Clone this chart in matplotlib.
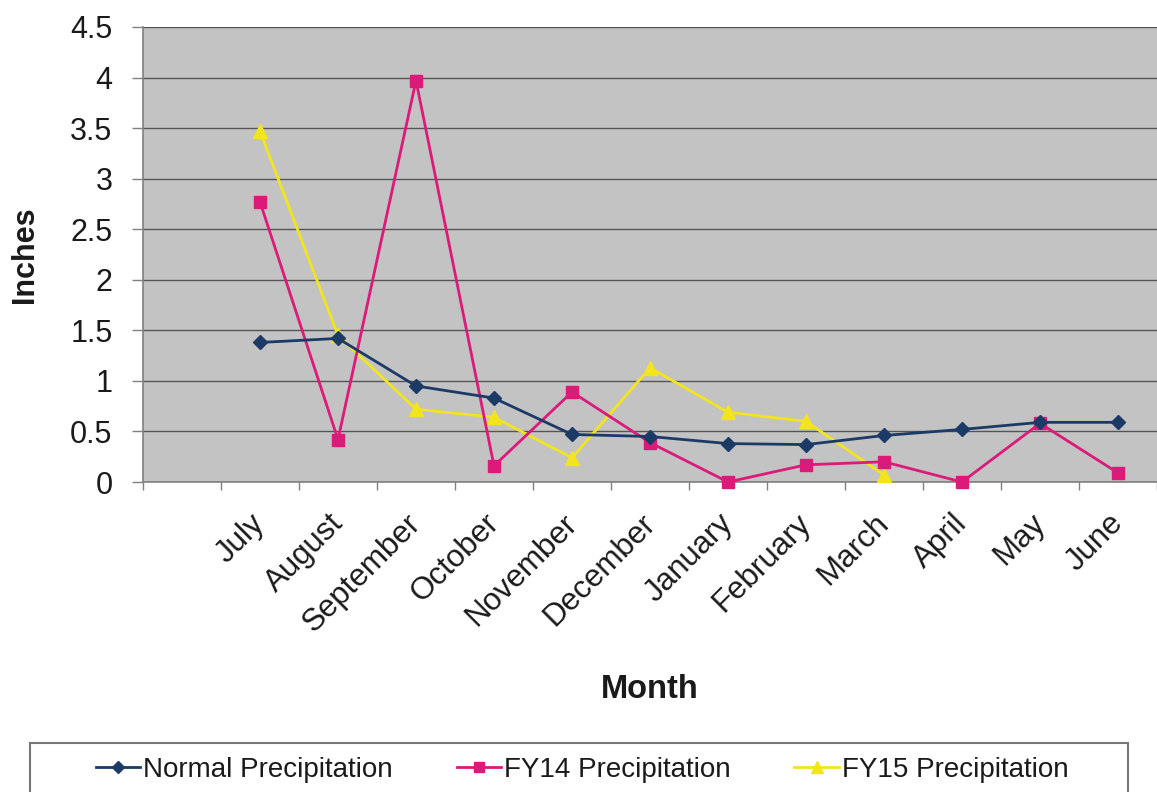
import matplotlib
matplotlib.use("Agg")
import matplotlib.pyplot as plt
from matplotlib.patches import Rectangle
from matplotlib.lines import Line2D
from matplotlib.transforms import ScaledTranslation

plt.rcParams['font.family'] = ['Liberation Sans', 'DejaVu Sans']

months = ["July", "August", "September", "October", "November", "December",
          "January", "February", "March", "April", "May", "June"]
normal = [1.38, 1.42, 0.95, 0.83, 0.47, 0.45, 0.38, 0.37, 0.46, 0.52, 0.59, 0.59]
fy14 = [2.77, 0.42, 3.97, 0.16, 0.89, 0.39, 0.00, 0.17, 0.20, 0.00, 0.58, 0.09]
fy15 = [3.47, 1.45, 0.72, 0.64, 0.24, 1.13, 0.69, 0.60, 0.07]
yticks = [0, 0.5, 1, 1.5, 2, 2.5, 3, 3.5, 4, 4.5]

W, H = 1157, 792
fig = plt.figure(figsize=(W / 100, H / 100), dpi=100)
fig.patch.set_facecolor("white")
ax = fig.add_axes([143 / W, 1 - 482 / H, (W - 143) / W, (482 - 27) / H])
ax.set_facecolor("#C3C3C3")

# one blank category slot precedes July on the category axis
x_months = list(range(1, len(months) + 1))

c_norm, c_14, c_15 = "#1B3A66", "#DC1A7A", "#F2E51E"
ax.plot(x_months, normal, color=c_norm, lw=2.0, marker="D", ms=7.5,
        mfc=c_norm, mec=c_norm, clip_on=False, zorder=5, label="Normal Precipitation")
ax.plot(x_months, fy14, color=c_14, lw=2.0, marker="s", ms=8.5,
        mfc=c_14, mec=c_14, clip_on=False, zorder=4, label="FY14 Precipitation")
ax.plot(x_months[:len(fy15)], fy15, color=c_15, lw=2.0, marker="^", ms=9.5,
        mfc=c_15, mec=c_15, clip_on=False, zorder=3, label="FY15 Precipitation")

ax.set_xlim(-0.5, len(months) + 0.5)
ax.set_ylim(0, 4.5)
ax.set_yticks(yticks)
ax.set_yticklabels([f"{v:g}" for v in yticks])
ax.yaxis.grid(True, color="#555555", lw=1.0)
ax.set_axisbelow(True)

# category boundaries carry the tick marks, labels sit at slot centres
ax.set_xticks([i + 0.5 for i in range(-1, len(months) + 1)], minor=True)
ax.set_xticks(x_months)
ax.set_xticklabels(months, rotation=45, ha="right", va="top",
                   rotation_mode="anchor")
ax.tick_params(axis="x", which="major", length=0, pad=19, labelsize=22.5,
               labelcolor="#1a1a1a")
ax.tick_params(axis="x", which="minor", length=6, color="#808080", width=1)
ax.tick_params(axis="y", length=8, color="#808080", width=1, pad=14,
               labelsize=22, labelcolor="#1a1a1a")
shift = ScaledTranslation(-10 / 100, 0, fig.dpi_scale_trans)
for lbl in ax.get_xticklabels():
    lbl.set_transform(lbl.get_transform() + shift)

for s in ["top", "right"]:
    ax.spines[s].set_visible(False)
for s in ["left", "bottom"]:
    ax.spines[s].set_color("#808080")
    ax.spines[s].set_linewidth(1.2)

fig.text(25 / W, 1 - 255 / H, "Inches", rotation=90, ha="center", va="center",
         fontsize=22, fontweight="bold", color="#1a1a1a")
fig.text(650 / W, 1 - 690 / H, "Month", ha="center", va="center",
         fontsize=23.5, fontweight="bold", color="#1a1a1a")

# legend frame runs off the bottom edge
fig.patches.append(Rectangle((30 / W, -0.05), (1128 - 30) / W, 0.05 + 1 - 743 / H,
                             transform=fig.transFigure, fill=False,
                             edgecolor="#777777", lw=1.5))
handles = [
    Line2D([], [], color=c_norm, lw=2, marker="D", ms=6, mfc=c_norm, mec=c_norm),
    Line2D([], [], color=c_14, lw=2, marker="s", ms=7, mfc=c_14, mec=c_14),
    Line2D([], [], color=c_15, lw=2, marker="^", ms=8, mfc=c_15, mec=c_15),
]
fig.legend(handles, ["Normal Precipitation", "FY14 Precipitation", "FY15 Precipitation"],
           loc="center", bbox_to_anchor=(582 / W, 1 - 770 / H), ncol=3,
           frameon=False, fontsize=20, handlelength=1.6, handletextpad=0.1,
           columnspacing=2.3, labelcolor="#1a1a1a")

fig.savefig("out.png", dpi=100)
